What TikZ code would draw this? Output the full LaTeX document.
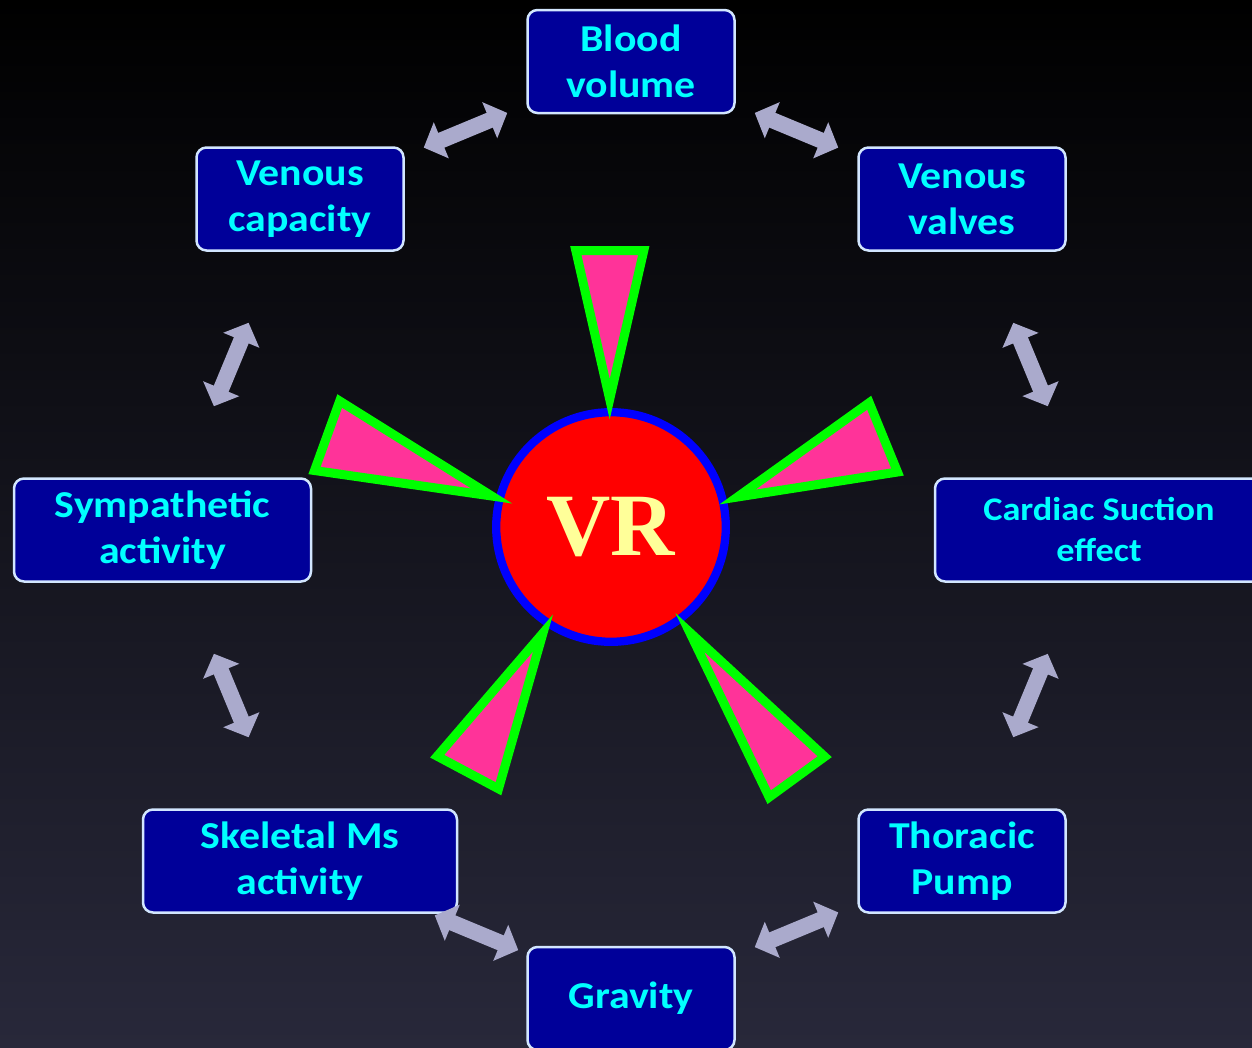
\documentclass[tikz,border=0pt]{standalone}
\usepackage{fontspec}
\usetikzlibrary{arrows.meta, calc}
\newfontfamily\calfont{Carlito}[FakeStretch=1.1]
\newfontfamily\vrfont{Liberation Serif}
\definecolor{box_navy}{RGB}{0, 0, 153}
\definecolor{box_edge}{RGB}{210, 230, 255}
\definecolor{label_cyan}{RGB}{0, 255, 255}
\definecolor{link_grey}{RGB}{170, 170, 204}
\definecolor{spike_pink}{RGB}{255, 51, 153}
\definecolor{spike_green}{RGB}{0, 255, 0}
\definecolor{vr_yellow}{RGB}{255, 255, 153}
\definecolor{bg_bottom}{RGB}{40, 40, 58}

\begin{document}
\begin{tikzpicture}[
    x=1pt, y=-1pt,
    % Factor boxes around the centre
    factor/.style={
        draw=box_edge,
        line width=2.5pt,
        fill=box_navy,
        rounded corners=10pt,
        text=label_cyan,
        align=center,
        minimum width=207pt,
        minimum height=103pt,
        inner sep=0pt,
        font=\calfont\bfseries\fontsize{38}{46}\selectfont
    },
    % Two-headed block arrows between neighbouring boxes
    link/.style={
        draw=link_grey,
        line width=16pt,
        {Triangle[length=19pt, width=38pt]}-{Triangle[length=19pt, width=38pt]},
        shorten <=134pt,
        shorten >=134pt
    },
    spike/.style={
        fill=spike_pink,
        draw=spike_green,
        line width=9pt,
        line join=miter
    }
]

    % ==========================================
    % 1. BACKGROUND
    % ==========================================

    \useasboundingbox (0,0) rectangle (1252,1047);
    \shade[top color=black, bottom color=bg_bottom] (0,0) rectangle (1252,1047);

    % ==========================================
    % 2. CENTRAL VR DISC AND SPIKES
    % ==========================================

    \node (vr) [circle, fill=red, draw=blue, line width=8.3pt, minimum size=229.6pt,
        inner sep=0pt, text=vr_yellow, font=\vrfont\bfseries\fontsize{89}{89}\selectfont]
        at (611,527) {VR};

    % top
    \filldraw[spike] (575.8,250.5) -- (643.8,250.5) -- (609.7,399.2) -- cycle;
    % upper left
    \filldraw[spike] (339.7,401) -- (314.5,470.5) -- (491.7,496) -- cycle;
    % upper right
    \filldraw[spike] (869.2,402.7) -- (897.5,472) -- (737.5,497) -- cycle;
    % lower left
    \filldraw[spike] (543,633) -- (437.2,756.2) -- (498.5,788.8) -- cycle;
    % lower right
    \filldraw[spike] (689.7,632.3) -- (824.7,756.7) -- (769.2,797.2) -- cycle;

    % ==========================================
    % 3. FACTOR BOXES
    % ==========================================

    \node (blood) [factor] at (631,61.5) {Blood\\volume};
    \node (vencap) [factor] at (300,199) {Venous\\capacity};
    \node (venvalve) [factor] at (962,199) {Venous\\valves};
    \node (symp) [factor, minimum width=297pt] at (162.5,530) {Sympathetic\\activity};
    \node (cardiac) [factor, minimum width=328pt,
        font=\calfont\bfseries\fontsize{33}{41}\selectfont] at (1099,530)
        {Cardiac Suction\\effect};
    \node (skeletal) [factor, minimum width=314pt] at (300,861) {Skeletal Ms\\activity};
    \node (thoracic) [factor] at (962,861) {Thoracic\\Pump};
    \node (gravity) [factor] at (631,998.5) {Gravity};

    % ==========================================
    % 4. LINKS ROUND THE RING
    % ==========================================

    \draw [link] (blood.center) -- (vencap.center);
    \draw [link] (blood.center) -- (venvalve.center);
    \draw [link] (vencap.center) -- (symp.center);
    \draw [link] (venvalve.center) -- (cardiac.center);
    \draw [link] (symp.center) -- (skeletal.center);
    \draw [link] (cardiac.center) -- (thoracic.center);
    \draw [link] ($(skeletal.center)+(11,3)$) -- ($(gravity.center)+(11,3)$);
    \draw [link] (gravity.center) -- (thoracic.center);

\end{tikzpicture}
\end{document}
